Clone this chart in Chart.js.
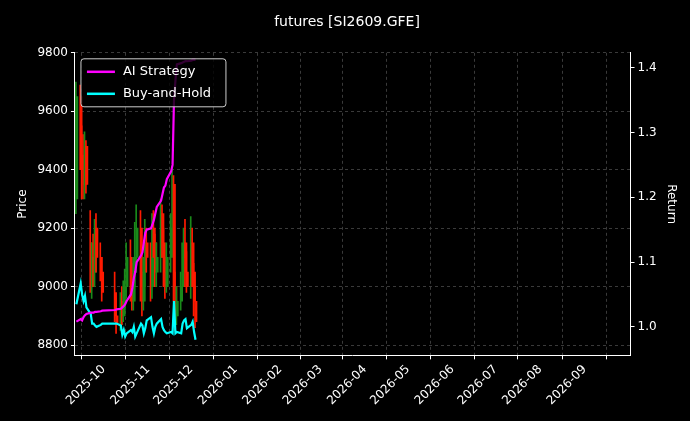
<!DOCTYPE html>
<html><head><meta charset="utf-8">
<script src="https://cdn.jsdelivr.net/npm/chart.js@4/dist/chart.umd.min.js"></script>
<style>html,body{margin:0;background:#000}#wrap{width:690px;height:421px}</style>
</head><body><div id="wrap"><canvas id="c"></canvas></div>
<script>
const dates = ['2025-09-12','2025-09-15','2025-09-16','2025-09-17','2025-09-18','2025-09-19','2025-09-22','2025-09-23','2025-09-24','2025-09-25','2025-09-26','2025-09-29','2025-09-30',
  '2025-10-09','2025-10-10','2025-10-13','2025-10-14','2025-10-15','2025-10-16','2025-10-17','2025-10-20','2025-10-21','2025-10-22','2025-10-23','2025-10-24','2025-10-27','2025-10-28','2025-10-29','2025-10-30','2025-10-31',
  '2025-11-03','2025-11-04','2025-11-05','2025-11-06','2025-11-07','2025-11-10','2025-11-11','2025-11-12','2025-11-13','2025-11-14','2025-11-17','2025-11-18','2025-11-19','2025-11-20','2025-11-21','2025-11-24','2025-11-25','2025-11-26','2025-11-27','2025-11-28',
  '2025-12-01','2025-12-02','2025-12-03','2025-12-04'];
const openP  = [9300,9650,9450,9400,9350,9480,9150,9000,9100,9050,9200,9100,9050, 8980,8900,8870,8950,8900,8980,9000,9100,9000,8950,9050,9100,9200,9000,8950,9050,9150, 9100,9000,9200,9150,9050,9100,9250,9150,9050,9000,9100,9200,9350,9000,8900,8950,9000,9100,9150,9050, 9000,9150,9050,8950];
const closeP = [9650,9450,9400,9350,9480,9350,9000,9100,9050,9200,9100,9050,8980, 8900,8870,8950,8900,8980,9000,9100,9000,8950,9050,9100,9200,9000,8950,9050,9150,9100, 9000,9200,9150,9050,9100,9250,9150,9050,9000,9100,9200,9350,9000,8900,8950,9000,9100,9150,9050,9000, 9150,9050,8950,8880];
const highP  = [9700,9690,9550,9520,9530,9500,9260,9150,9180,9230,9250,9150,9100, 9050,8960,8980,9000,9020,9060,9150,9160,9080,9100,9220,9280,9260,9050,9100,9230,9200, 9150,9250,9260,9180,9150,9300,9280,9200,9100,9150,9250,9400,9380,9050,9000,9050,9150,9200,9230,9120, 9240,9200,9080,9000];
const lowP   = [9250,9400,9300,9300,9300,9320,8980,8960,9000,9000,9050,9020,8950, 8880,8840,8850,8870,8880,8920,8960,8950,8920,8920,9000,9050,8950,8900,8920,9000,9050, 8950,8960,9100,9000,9000,9050,9100,9000,8960,8980,9050,9150,8950,8850,8870,8920,8980,9050,9000,8980, 8960,9000,8900,8860];
const strategy = [1.008,1.012,1.010,1.015,1.018,1.020,1.022,1.022,1.022,1.023,1.023,1.024,1.025,
  1.026,1.027,1.028,1.030,1.032,1.035,1.040,1.050,1.060,1.075,1.085,1.100,1.110,1.115,1.130,1.145,1.150,
  1.152,1.158,1.165,1.175,1.185,1.195,1.205,1.215,1.218,1.228,1.240,1.250,1.350,1.380,1.405,1.407,1.408,1.409,1.410,1.410,
  1.411,1.412,1.412,1.412];
const buyHold = [1.035,1.067,1.050,1.040,1.048,1.030,1.020,1.005,1.005,1.002,1.000,1.003,1.005,
  1.005,1.005,1.002,0.988,0.995,0.985,0.990,0.995,0.992,1.000,0.985,0.990,1.005,1.002,0.990,0.998,1.010,
  1.015,1.000,0.990,1.000,1.005,1.012,1.000,0.995,0.992,0.990,0.992,0.990,1.040,0.990,0.992,0.990,1.005,1.010,1.012,0.998,
  1.003,1.008,0.992,0.980];
const tickMonths = ['2025-10','2025-11','2025-12','2026-01','2026-02','2026-03','2026-04','2026-05','2026-06','2026-07','2026-08','2026-09'];

const t = s => Date.parse(s + (s.length === 7 ? '-01' : '') + 'T00:00:00Z');
const xs = dates.map(t);
const up = dates.map((d, i) => closeP[i] >= openP[i]);
const col = up.map(u => u ? '#1a8a1a' : '#ff1a00');

const legendIn = {
  id: 'legendIn',
  afterDraw(ch) {
    const c = ch.ctx, a = ch.chartArea;
    const x = a.left + 6, y = a.top + 6;
    c.save();
    c.fillStyle = 'rgba(0,0,0,0.8)';
    c.strokeStyle = '#ccc'; c.lineWidth = 1;
    c.beginPath(); c.roundRect(x, y, 145, 48, 3); c.fill(); c.stroke();
    c.font = '13px "DejaVu Sans"'; c.textBaseline = 'middle';
    [['AI Strategy', '#ff00ff'], ['Buy-and-Hold', '#00ffff']].forEach(([l, k], i) => {
      const yy = y + 13 + i * 22;
      c.strokeStyle = k; c.lineWidth = 2.5;
      c.beginPath(); c.moveTo(x + 6, yy); c.lineTo(x + 34, yy); c.stroke();
      c.fillStyle = '#fff'; c.fillText(l, x + 42, yy);
    });
    c.restore();
  }
};

const grid = { color: '#3a3a3a', tickColor: '#fff', tickLength: 4 };
new Chart(document.getElementById('c'), {
  data: {
    datasets: [
      { type: 'bar', yAxisID: 'y', data: xs.map((x, i) => ({ x, y: [lowP[i], highP[i]] })), backgroundColor: col, barThickness: 1, order: 3 },
      { type: 'bar', yAxisID: 'y', data: xs.map((x, i) => ({ x, y: [Math.min(openP[i], closeP[i]), Math.max(openP[i], closeP[i])] })), backgroundColor: col, barThickness: 1.5, order: 3 },
      { type: 'line', yAxisID: 'y2', data: xs.map((x, i) => ({ x, y: strategy[i] })), borderColor: '#ff00ff', borderWidth: 2.2, pointRadius: 0, order: 1 },
      { type: 'line', yAxisID: 'y2', data: xs.map((x, i) => ({ x, y: buyHold[i] })), borderColor: '#00ffff', borderWidth: 2.2, pointRadius: 0, order: 2 }
    ]
  },
  options: {
    responsive: true, maintainAspectRatio: false, animation: false,
    layout: { padding: { left: 12, right: 8, top: 8, bottom: 10 } },
    plugins: {
      legend: { display: false }, tooltip: { enabled: false },
      title: { display: true, text: 'futures [SI2609.GFE]', color: '#fff', font: { size: 14, family: 'DejaVu Sans', weight: 'normal' }, padding: { top: 6, bottom: 22 } }
    },
    scales: {
      x: {
        type: 'linear', offset: false, min: t('2025-09-11'), max: t('2026-10-03'),
        afterBuildTicks: s => { s.ticks = tickMonths.map(m => ({ value: t(m) })); },
        ticks: { color: '#fff', maxRotation: 45, minRotation: 45, autoSkip: false, font: { size: 12, family: 'DejaVu Sans' },
          callback: v => new Date(v).toISOString().slice(0, 7) },
        grid: { ...grid },
        border: { color: '#fff', dash: [3, 3] }
      },
      y: {
        position: 'left', min: 8765, max: 9800,
        afterBuildTicks: s => { s.ticks = [8800, 9000, 9200, 9400, 9600, 9800].map(v => ({ value: v })); },
        ticks: { color: '#fff', font: { size: 12, family: 'DejaVu Sans' }, callback: v => String(v) },
        title: { display: true, text: 'Price', color: '#fff', font: { size: 12, family: 'DejaVu Sans' } },
        grid: { ...grid },
        border: { color: '#fff', dash: [3, 3] }
      },
      y2: {
        position: 'right', min: 0.956, max: 1.423,
        afterBuildTicks: s => { s.ticks = [1.0, 1.1, 1.2, 1.3, 1.4].map(v => ({ value: v })); },
        ticks: { color: '#fff', font: { size: 12, family: 'DejaVu Sans' }, callback: v => v.toFixed(1) },
        title: { display: true, text: 'Return', color: '#fff', font: { size: 12, family: 'DejaVu Sans' } },
        grid: { drawOnChartArea: false, tickColor: '#fff', tickLength: 4 },
        border: { color: '#fff' }
      }
    }
  },
  plugins: [legendIn]
});
</script></body></html>
